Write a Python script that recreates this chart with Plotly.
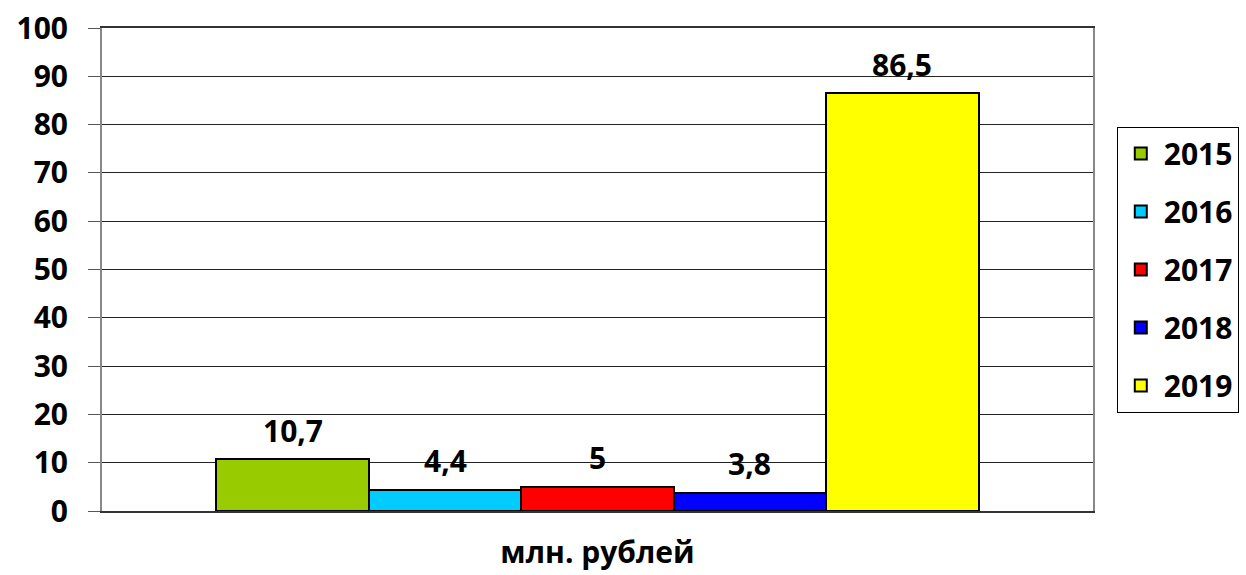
import plotly.graph_objects as go

years = ["2015", "2016", "2017", "2018", "2019"]
values = [10.7, 4.4, 5.0, 3.8, 86.5]
labels = ["10,7", "4,4", "5", "3,8", "86,5"]
colors = ["#99CC00", "#00CCFF", "#FF0000", "#0000FF", "#FFFF00"]
x_title = "млн. рублей"
y_ticks = [0, 10, 20, 30, 40, 50, 60, 70, 80, 90, 100]

FONT = "Open Sans"
FS = 30

fig = go.Figure()
for yr, v, c in zip(years, values, colors):
    fig.add_trace(go.Bar(
        x=[yr], y=[v], name=yr, legendgroup=yr,
        marker=dict(color=c, line=dict(color="#000000", width=2)),
        width=1.0,
    ))

for i, (v, lab) in enumerate(zip(values, labels)):
    fig.add_annotation(x=i, y=v, text=lab, showarrow=False,
                       yanchor="middle", yshift=29,
                       font=dict(family=FONT, size=FS, color="#000", weight="bold"))

# category boundary ticks at both ends of the x axis
for xp in (0, 1):
    fig.add_shape(type="line", xref="paper", yref="y", x0=xp, x1=xp,
                  y0=0, y1=-12, ysizemode="pixel", yanchor=0,
                  line=dict(color="#555555", width=2))

fig.update_layout(
    width=1246, height=575,
    margin=dict(l=102, r=153, t=28, b=64, autoexpand=False),
    paper_bgcolor="white", plot_bgcolor="white",
    barmode="relative", bargap=0,
    font=dict(family=FONT, size=FS, color="#000", weight="bold"),
    showlegend=True,
    legend=dict(
        x=1.024, xanchor="left", y=0.796, yanchor="top",
        bordercolor="#000", borderwidth=1,
        font=dict(family=FONT, size=FS, color="#000", weight="bold"),
        traceorder="grouped", tracegroupgap=16,
        itemwidth=36,
    ),
    xaxis=dict(
        type="category", range=[-1.25, 5.25],
        showticklabels=False, ticks="", showgrid=False,
        showline=True, linecolor="#333333", linewidth=2, mirror=True,
        zeroline=False, automargin=False,
        title=dict(text=x_title, standoff=30,
                   font=dict(family=FONT, size=FS, color="#000", weight="bold")),
    ),
    yaxis=dict(
        range=[0, 100], tickvals=y_ticks,
        ticks="outside", ticklen=12, tickcolor="#555555", tickwidth=1,
        ticklabelstandoff=14,
        showline=True, linecolor="#888888", linewidth=2, mirror=True,
        showgrid=True, gridcolor="#222222", gridwidth=1,
        zeroline=False, automargin=False,
        tickfont=dict(family=FONT, size=FS, color="#000", weight="bold"),
    ),
)

fig.write_html("out.html", config={"displayModeBar": False},
               post_script="document.body.style.margin='0';document.body.style.padding='0';")
